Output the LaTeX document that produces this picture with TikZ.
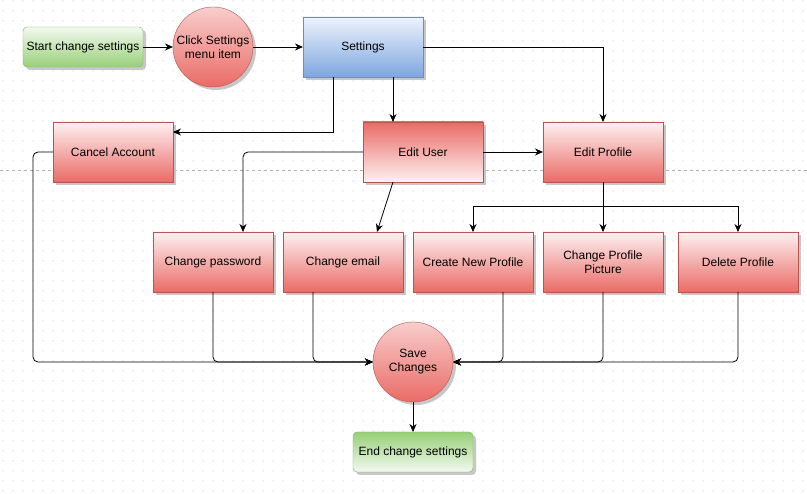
\documentclass[tikz,border=0pt]{standalone}
\usepackage{fontspec}
\setmainfont{Liberation Sans}
\usetikzlibrary{shapes.geometric, arrows.meta, positioning, calc, shadows}
\definecolor{redfill}{HTML}{EA6B66}
\definecolor{redpale}{HTML}{FDF1F1}
\definecolor{redline}{HTML}{B85450}
\definecolor{bluefill}{HTML}{7EA6E0}
\definecolor{bluepale}{HTML}{EEF3FC}
\definecolor{blueline}{HTML}{6C8EBF}
\definecolor{greenfill}{HTML}{97D077}
\definecolor{greenpale}{HTML}{F3F9F0}
\definecolor{greenline}{HTML}{82B366}
\definecolor{pinkfill}{HTML}{F8CECC}
\tikzstyle{shade} = [drop shadow={shadow xshift=3pt, shadow yshift=-3pt, fill=black!22, opacity=1}]
\tikzstyle{process} = [rectangle, minimum width=120pt, minimum height=60pt, align=center,
  draw=redline, shade, outer sep=0pt, font=\fontsize{12}{14}\selectfont]
\tikzstyle{procup} = [process, top color=redpale, bottom color=redfill]
\tikzstyle{procdown} = [process, top color=redfill, bottom color=redpale]
\tikzstyle{menu} = [process, draw=blueline, top color=bluepale, bottom color=bluefill]
\tikzstyle{startstop} = [rectangle, rounded corners=4pt, minimum width=120pt, minimum
  height=40pt, align=center, draw=greenline, shade, outer sep=0pt, font=\fontsize{12}{14}\selectfont]
\tikzstyle{action} = [circle, minimum size=80pt, inner sep=0pt, align=center, draw=redline,
  top color=pinkfill, bottom color=redfill, shade, outer sep=0pt, font=\fontsize{12}{14}\selectfont]
\tikzstyle{arrow} = [line width=0.8pt, -{Stealth[length=8pt,width=7pt]}]
\tikzstyle{link} = [line width=0.8pt, rounded corners=5pt]

\begin{document}
\begin{tikzpicture}[x=1pt, y=1pt]
  \useasboundingbox (0,0) rectangle (807,-494);
  \fill[white] (0,0) rectangle (807,-494);
  % grid
  \foreach \i in {0,...,80}
    \foreach \j in {0,...,49}
      \fill[black!30] (3+10*\i,-1-10*\j) circle (0.5pt);
  \draw[dashed, black!30, line width=0.6pt] (0,-170) -- (807,-170);

  \node (start) [startstop, top color=greenpale, bottom color=greenfill] at (83,-47)
    {Start change settings};
  \node (click) [action, right=30pt of start] {Click Settings\\menu item};
  \node (settings) [menu, right=50pt of click] {Settings};
  \node (edituser) [procdown, below=45pt of settings, xshift=60pt] {Edit User};
  \node (cancel) [procup, left=190pt of edituser] {Cancel Account};
  \node (editprofile) [procup, right=60pt of edituser] {Edit Profile};

  \node (changepw) [procup, below=50pt of edituser, xshift=-210pt] {Change password};
  \node (changeemail) [procup, right=10pt of changepw] {Change email};
  \node (create) [procup, right=10pt of changeemail] {Create New Profile};
  \node (picture) [procup, right=10pt of create] {Change Profile\\Picture};
  \node (delete) [procup, right=15pt of picture] {Delete Profile};

  \node (save) [action, below=30pt of create, xshift=-60pt] {Save\\Changes};
  \node (end) [startstop, top color=greenfill, bottom color=greenpale, below=30pt of save]
    {End change settings};
  \coordinate (fork) at ($(editprofile.south)+(0,-24pt)$);

  \draw[arrow] (start) -- (click);
  \draw[arrow] (click) -- (settings);
  \draw[arrow] ([xshift=30pt]settings.south) -- ([xshift=-30pt]edituser.north);
  \draw[arrow] ([xshift=-30pt]settings.south) |- ([yshift=20pt]cancel.east);
  \draw[arrow] (settings.east) -| (editprofile.north);
  \draw[arrow] (edituser) -- (editprofile);
  \draw[arrow, link] (edituser.west) -| ([xshift=30pt]changepw.north);
  \draw[arrow] ([xshift=-30pt]edituser.south) -- ([xshift=34pt]changeemail.north);

  \draw[arrow] (editprofile.south) -- (picture.north);
  \draw[arrow] (fork) -| (create.north);
  \draw[arrow] (fork) -| (delete.north);

  \draw[arrow, link] (cancel.west) -- ++(-20pt,0) |- (save.west);
  \draw[arrow, link] (changepw.south) |- (save.west);
  \draw[arrow, link] ([xshift=-30pt]changeemail.south) |- (save.west);
  \draw[arrow, link] ([xshift=30pt]create.south) |- (save.east);
  \draw[arrow, link] (picture.south) |- (save.east);
  \draw[arrow, link] (delete.south) |- (save.east);
  \draw[arrow] (save) -- (end);
\end{tikzpicture}
\end{document}
